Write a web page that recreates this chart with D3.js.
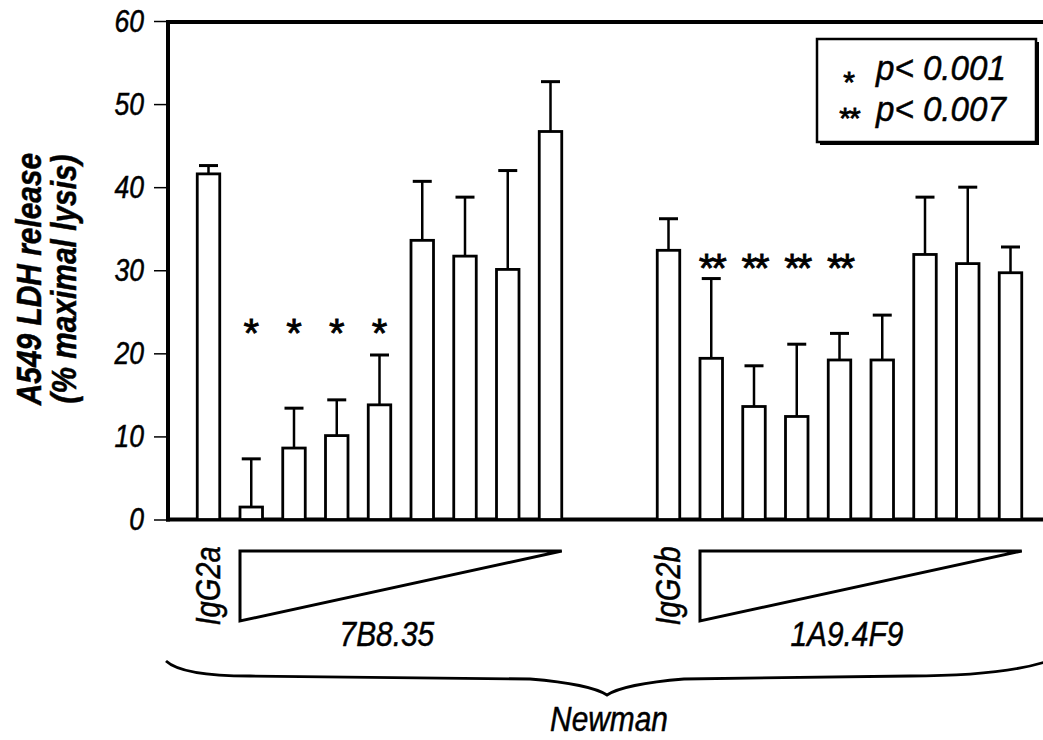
<!DOCTYPE html>
<html>
<head>
<meta charset="utf-8">
<script src="https://cdn.jsdelivr.net/npm/d3@7"></script>
<style>
  body { margin: 0; background: #fff; }
  text { font-family: "Liberation Sans", Arial, sans-serif; font-style: italic; fill: #000; stroke: #000; stroke-width: 0.5; }
  text.star { font-style: normal; stroke-width: 0.8; }
</style>
</head>
<body>
<svg width="1043" height="740"></svg>
<script>
// values (% maximal lysis), bar mean and +SD
let groups = ['7B8.35', '1A9.4F9'],
    controls = ['IgG2a', 'IgG2b'],
    mean7B8 = [41.6, 1.5, 8.6, 10.1, 13.8, 33.6, 31.7, 30.1, 46.7],
    sd7B8 = [1.0, 5.8, 4.8, 4.3, 6.0, 7.1, 7.1, 11.9, 6.0],
    sig7B8 = ['', '*', '*', '*', '*', '', '', '', ''],
    mean1A9 = [32.4, 19.4, 13.6, 12.4, 19.2, 19.2, 31.9, 30.8, 29.7],
    sd1A9 = [3.8, 9.6, 4.9, 8.7, 3.2, 5.4, 6.9, 9.2, 3.1],
    sig1A9 = ['', '**', '**', '**', '**', '', '', '', ''],
    yTicks = [0, 10, 20, 30, 40, 50, 60],
    legendMarks = ['*', '**'],
    legendText = ['p< 0.001', 'p< 0.007'],
    strainLabel = 'Newman',
    yTitle = ['A549 LDH release', '(% maximal lysis)'];

let groupData = [
    {name: groups[0], control: controls[0], mean: mean7B8, sd: sd7B8, sig: sig7B8},
    {name: groups[1], control: controls[1], mean: mean1A9, sd: sd1A9, sig: sig1A9}
];

let svg = d3.select('svg'),
    barW = 22.5,
    left = 168, right = 1043,
    squeeze = 0.83,            // condensed face: squeeze Liberation Sans sideways
    sigLevel = [23.5, 31.4];   // height the asterisks sit at, per group

// translate + optional rotation + horizontal squeeze for a text node
let place = (x, y, rot, sq) => 'translate(' + x + ',' + y + ')' + (rot ? ' rotate(' + rot + ')' : '') + ' scale(' + (sq || squeeze) + ',1)';

let y = d3.scaleLinear().domain([0, 60]).range([519.5, 21]),
    xGroup = d3.scalePoint().domain(groups).range([208.5, 668.5]),
    xBar = d3.scaleLinear().domain([0, 8]).range([0, 342]);

let cx = (g, i) => xGroup(g) + xBar(i);

// y axis
let yAxis = svg.append('g')
    .attr('transform', 'translate(' + left + ',0)')
    .call(d3.axisLeft(y).tickValues(yTicks).tickSize(14).tickPadding(10).tickSizeOuter(0));
yAxis.select('.domain').remove();
yAxis.selectAll('line').attr('stroke', '#000').attr('stroke-width', 1.5);
yAxis.selectAll('text')
    .attr('font-size', 32)
    .style('font-family', '"Liberation Sans", Arial, sans-serif')
    .style('font-style', 'italic')
    .attr('transform', function() { return place(this.getAttribute('x'), 0); })
    .attr('x', 0);

// frame
svg.append('line').attr('x1', left).attr('x2', left).attr('y1', y(60) - 1).attr('y2', y(0) + 2)
    .attr('stroke', '#000').attr('stroke-width', 4);
svg.append('line').attr('x1', left - 2).attr('x2', right).attr('y1', y(60) + 1).attr('y2', y(60) + 1)
    .attr('stroke', '#000').attr('stroke-width', 4);
svg.append('line').attr('x1', left - 2).attr('x2', right).attr('y1', y(0)).attr('y2', y(0))
    .attr('stroke', '#000').attr('stroke-width', 4);

// y title
svg.selectAll('text.ytitle')
    .data(yTitle)
    .enter()
    .append('text')
    .attr('class', 'ytitle')
    .attr('transform', (d, i) => place(i === 0 ? 41 : 76, 279, -90))
    .attr('text-anchor', 'middle')
    .attr('font-size', 36)
    .attr('font-weight', 'bold')
    .text(d => d);

// bars, error bars, asterisks
groupData.forEach(function(g, gi) {
    let gg = svg.append('g');
    let rows = g.mean.map((m, i) => ({i: i, mean: m, sd: g.sd[i], sig: g.sig[i]}));

    gg.selectAll('line.err')
        .data(rows)
        .enter()
        .append('line')
        .attr('class', 'err')
        .attr('x1', d => cx(g.name, d.i)).attr('x2', d => cx(g.name, d.i))
        .attr('y1', d => y(d.mean)).attr('y2', d => y(d.mean + d.sd))
        .attr('stroke', '#000').attr('stroke-width', 2.5);

    gg.selectAll('line.cap')
        .data(rows)
        .enter()
        .append('line')
        .attr('class', 'cap')
        .attr('x1', d => cx(g.name, d.i) - 9.5).attr('x2', d => cx(g.name, d.i) + 9.5)
        .attr('y1', d => y(d.mean + d.sd)).attr('y2', d => y(d.mean + d.sd))
        .attr('stroke', '#000').attr('stroke-width', 3);

    gg.selectAll('rect')
        .data(rows)
        .enter()
        .append('rect')
        .attr('x', d => cx(g.name, d.i) - barW / 2)
        .attr('width', barW)
        .attr('y', d => y(d.mean))
        .attr('height', d => y(0) - y(d.mean))
        .attr('fill', '#fff')
        .attr('stroke', '#000')
        .attr('stroke-width', 2.8);

    gg.selectAll('text.star')
        .data(rows.filter(d => d.sig))
        .enter()
        .append('text')
        .attr('class', 'star')
        .attr('x', d => cx(g.name, d.i))
        .attr('y', y(sigLevel[gi]) + 23)
        .attr('text-anchor', 'middle')
        .attr('font-size', 40)
        .attr('letter-spacing', d => d.sig.length > 1 ? -3 : 0)
        .text(d => d.sig);

    // dose triangle under the antibody bars
    let x0 = cx(g.name, 1) - barW / 2,
        x1 = cx(g.name, 8) + barW / 2;
    gg.append('path')
        .attr('d', 'M' + x0 + ',551 L' + x1 + ',551 L' + x0 + ',621 Z')
        .attr('fill', 'none')
        .attr('stroke', '#000')
        .attr('stroke-width', 3);

    gg.append('text')
        .attr('transform', place((x0 + x1) / 2 - 14, 646))
        .attr('text-anchor', 'middle')
        .attr('font-size', 36)
        .text(g.name);

    // isotype control label, rotated
    gg.append('text')
        .attr('transform', place(cx(g.name, 0) + 11, 586, -90))
        .attr('text-anchor', 'middle')
        .attr('font-size', 35)
        .text(g.control);
});

// brace + strain
svg.append('path')
    .attr('d', 'M166,661 Q182,676 250,676 L530,679 Q590,684 607,695 Q624,684 684,679 L910,676 Q1000,676 1045,662')
    .attr('fill', 'none')
    .attr('stroke', '#000')
    .attr('stroke-width', 2.8);

svg.append('text')
    .attr('transform', place(609, 731))
    .attr('text-anchor', 'middle')
    .attr('font-size', 36)
    .text(strainLabel);

// legend box with drop shadow
let lg = svg.append('g');
lg.append('rect').attr('x', 820).attr('y', 42).attr('width', 219).attr('height', 103).attr('fill', '#000');
lg.append('rect').attr('x', 817).attr('y', 39).attr('width', 219).attr('height', 103)
    .attr('fill', '#fff').attr('stroke', '#000').attr('stroke-width', 2.5);

lg.selectAll('text.star')
    .data(legendMarks)
    .enter()
    .append('text')
    .attr('class', 'star')
    .attr('x', 849)
    .attr('y', (d, i) => [75, 111][i] + 17)
    .attr('text-anchor', 'middle')
    .attr('font-size', 30)
    .attr('letter-spacing', d => d.length > 1 ? -2 : 0)
    .text(d => d);

lg.selectAll('text.lab')
    .data(legendText)
    .enter()
    .append('text')
    .attr('class', 'lab')
    .attr('transform', (d, i) => place(876, 80 + i * 41, 0, 0.92))
    .attr('font-size', 36)
    .text(d => d);
</script>
</body>
</html>
